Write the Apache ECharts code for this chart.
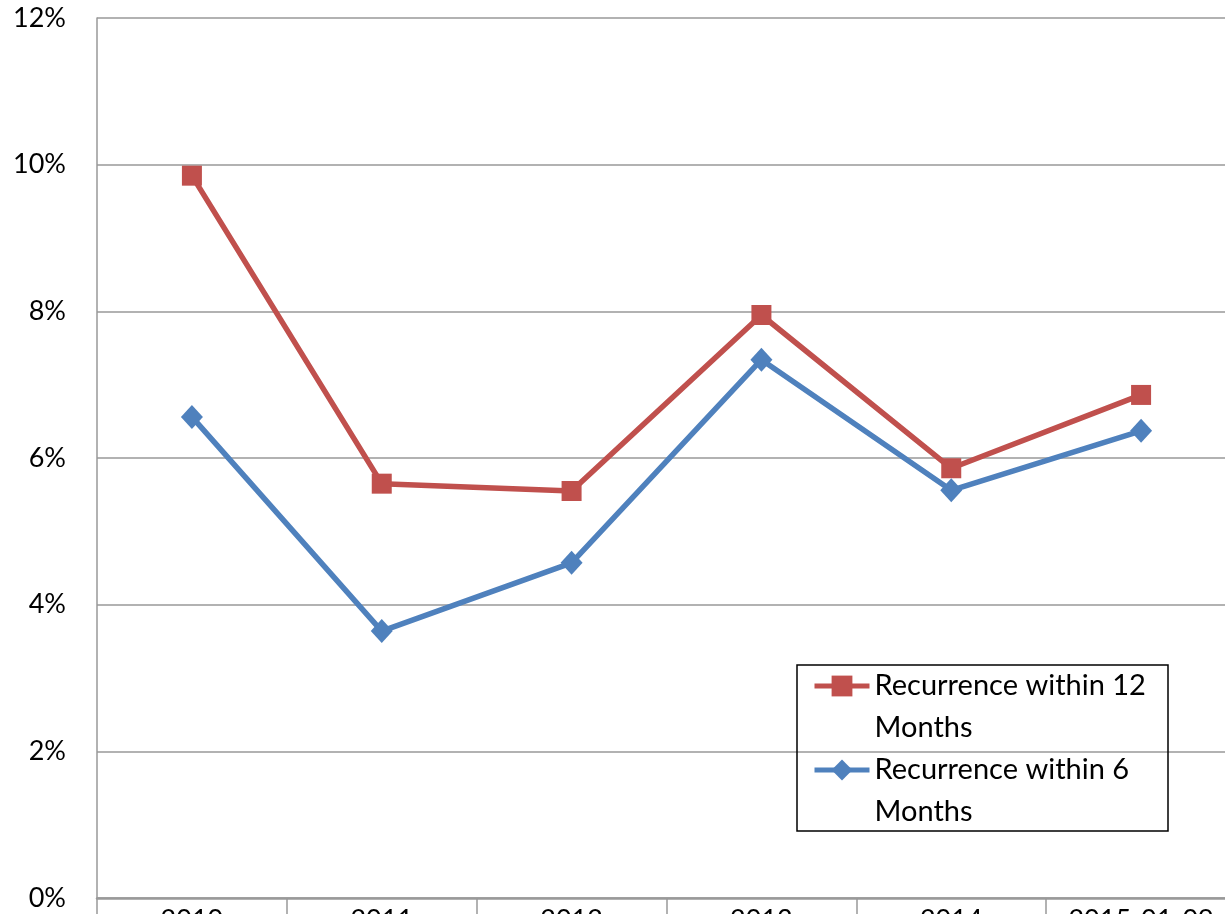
<!DOCTYPE html>
<html>
<head>
    <meta charset="utf-8">
    <script src="https://cdn.jsdelivr.net/npm/echarts@6/dist/echarts.min.js"></script>
    <style>
        html, body { margin: 0; padding: 0; background: #fff; }
    </style>
</head>
<body>
    <div id="chart" style="width: 1225px;height:914px;"></div>
    <script>
        // values in percent
        let years = ['2010', '2011', '2012', '2013', '2014', '2015-01-09'];
        let within12 = [9.85, 5.65, 5.55, 7.95, 5.86, 6.86];
        let within6 = [6.56, 3.64, 4.57, 7.34, 5.56, 6.37];
        let yTicks = [0, 2, 4, 6, 8, 10, 12];

        let font = 'Lato, "Open Sans", sans-serif';

        RecChart = echarts.init(document.getElementById('chart'));
        rec_chart = {
            animation: false,
            grid: {
                left: 97,
                top: 18,
                width: 1139,
                height: 880,
                outerBoundsMode: 'none',
                containLabel: false
            },
            legend: {
                orient: 'vertical',
                left: 797,
                top: 623,
                padding: [0, 16, 0, 15],
                itemWidth: 55,
                itemHeight: 26,
                itemGap: -42,
                data: ['Recurrence within 12 Months', 'Recurrence within 6 Months'],
                formatter: function (name) {
                    // blank first line keeps the first text line level with the icon
                    return '\n' + name.replace(' Months', '\nMonths');
                },
                lineStyle: { width: 5 },
                textStyle: {
                    fontFamily: font,
                    fontSize: 29,
                    lineHeight: 42,
                    color: '#000'
                }
            },
            graphic: [{
                type: 'rect',
                shape: { x: 797, y: 665, width: 371, height: 166 },
                style: { fill: null, stroke: '#000', lineWidth: 1.5 },
                z: 100
            }],
            xAxis: {
                type: 'category',
                data: years,
                boundaryGap: true,
                axisLine: { lineStyle: { color: '#999', width: 2.5 } },
                axisTick: { show: true, length: 20, lineStyle: { color: '#999', width: 1.5 } },
                axisLabel: {
                    margin: 9,
                    fontFamily: font,
                    fontSize: 27,
                    color: '#000'
                },
                splitLine: { show: false }
            },
            yAxis: {
                type: 'value',
                min: yTicks[0],
                max: yTicks[yTicks.length - 1],
                interval: 2,
                axisLine: { show: true, lineStyle: { color: '#999', width: 1.5 } },
                axisTick: { show: false },
                axisLabel: {
                    margin: 31,
                    fontFamily: font,
                    fontSize: 27,
                    color: '#000',
                    formatter: '{value}%'
                },
                splitLine: { lineStyle: { color: '#999', width: 1.5 } }
            },
            series: [{
                name: 'Recurrence within 12 Months',
                type: 'line',
                data: within12,
                symbol: 'rect',
                symbolSize: 20,
                lineStyle: { color: '#C0504D', width: 5.5 },
                itemStyle: { color: '#C0504D' }
            }, {
                name: 'Recurrence within 6 Months',
                type: 'line',
                data: within6,
                symbol: 'diamond',
                symbolSize: [22, 24],
                lineStyle: { color: '#4F81BD', width: 5.5 },
                itemStyle: { color: '#4F81BD' }
            }]
        };
        RecChart.setOption(rec_chart);
    </script>
</body>
</html>
